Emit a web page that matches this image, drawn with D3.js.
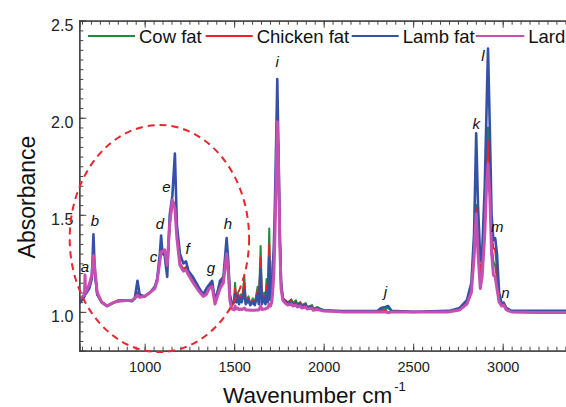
<!DOCTYPE html>
<html><head><meta charset="utf-8">
<script src="https://cdn.jsdelivr.net/npm/d3@7"></script>
<style>body{margin:0;background:#fff}svg{display:block}</style>
</head><body>
<script>
const seriesNames = ["Cow fat", "Chicken fat", "Lamb fat", "Lard"];
const seriesColors = ["#1f8b3d", "#ea2228", "#3551a5", "#c64fb2"];
const wavenumbers = [635,650,664,667,670,690,705,714,722,735,760,790,820,850,900,930,945,960,972,1000,1030,1057,1070,1085,1092,1100,1112,1126,1140,1155,1169,1180,1197,1216,1231,1245,1271,1300,1327,1345,1360,1377,1393,1410,1421,1440,1458,1468,1476,1486,1500,1505,1512,1520,1527,1535,1542,1550,1557,1565,1580,1590,1605,1615,1631,1638,1648,1655,1668,1675,1681,1688,1696,1703,1710,1715,1722,1728,1735,1741,1748,1755,1762,1772,1785,1800,1820,1827,1845,1852,1870,1877,1900,1907,1935,1942,1965,2000,2100,2300,2320,2345,2360,2380,2500,2700,2760,2800,2825,2840,2852,2862,2875,2885,2900,2910,2918,2928,2938,2948,2958,2968,2980,2995,3006,3020,3050,3200,3400];
const cowFat = [1.06,1.07,1.09,1.10,1.10,1.13,1.18,1.30,1.20,1.09,1.05,1.03,1.045,1.055,1.058,1.06,1.07,1.10,1.08,1.08,1.10,1.125,1.16,1.27,1.33,1.31,1.32,1.23,1.45,1.57,1.56,1.40,1.25,1.22,1.23,1.20,1.16,1.12,1.085,1.10,1.13,1.14,1.05,1.12,1.15,1.17,1.33,1.22,1.08,1.03,1.05,1.15,1.06,1.10,1.05,1.09,1.06,1.12,1.18,1.05,1.08,1.04,1.07,1.04,1.13,1.05,1.34,1.05,1.10,1.05,1.17,1.06,1.43,1.07,1.10,1.26,1.30,1.45,1.75,2.00,1.80,1.40,1.15,1.07,1.06,1.05,1.065,1.045,1.06,1.04,1.05,1.035,1.045,1.025,1.035,1.015,1.025,1.008,1.003,1.003,1.01,1.015,1.02,1.003,1.0,1.0,1.015,1.05,1.12,1.30,1.55,1.35,1.19,1.25,1.50,1.80,1.95,1.75,1.35,1.26,1.24,1.17,1.07,1.035,1.04,1.015,1.0,1.002,1.002];
const chickenFat = [1.06,1.07,1.09,1.10,1.10,1.13,1.18,1.30,1.20,1.09,1.05,1.03,1.045,1.055,1.058,1.06,1.07,1.10,1.08,1.08,1.10,1.125,1.16,1.27,1.33,1.31,1.32,1.23,1.45,1.57,1.55,1.40,1.25,1.22,1.23,1.20,1.16,1.12,1.085,1.10,1.13,1.14,1.05,1.11,1.15,1.16,1.32,1.22,1.08,1.03,1.05,1.12,1.05,1.09,1.045,1.08,1.05,1.10,1.15,1.045,1.07,1.04,1.06,1.04,1.11,1.045,1.28,1.045,1.08,1.045,1.14,1.055,1.35,1.065,1.09,1.22,1.28,1.45,1.75,2.01,1.80,1.40,1.15,1.07,1.06,1.045,1.058,1.04,1.052,1.035,1.045,1.03,1.04,1.022,1.03,1.012,1.02,1.006,1.002,1.0,1.005,1.01,0.996,1.0,1.0,1.0,1.012,1.05,1.12,1.30,1.53,1.35,1.21,1.25,1.45,1.75,1.884,1.70,1.40,1.33,1.32,1.22,1.08,1.04,1.05,1.02,1.0,0.997,0.995];
const lambFat = [1.045,1.06,1.08,1.09,1.09,1.12,1.17,1.40,1.20,1.09,1.05,1.03,1.045,1.058,1.06,1.055,1.07,1.16,1.09,1.08,1.10,1.13,1.17,1.30,1.393,1.30,1.29,1.18,1.50,1.60,1.815,1.45,1.30,1.25,1.26,1.21,1.178,1.13,1.09,1.12,1.14,1.16,1.06,1.11,1.16,1.18,1.38,1.25,1.09,1.05,1.05,1.09,1.05,1.08,1.04,1.07,1.05,1.08,1.11,1.04,1.06,1.035,1.05,1.035,1.09,1.04,1.22,1.04,1.07,1.04,1.10,1.05,1.28,1.06,1.08,1.20,1.35,1.57,1.90,2.20,1.80,1.40,1.15,1.07,1.055,1.04,1.05,1.035,1.045,1.03,1.04,1.025,1.035,1.02,1.025,1.012,1.018,1.008,1.004,1.005,1.02,1.025,1.03,1.005,1.0,1.005,1.02,1.06,1.15,1.40,1.92,1.55,1.264,1.30,1.65,2.05,2.357,1.95,1.50,1.37,1.38,1.30,1.10,1.04,1.045,1.02,1.005,1.005,1.005];
const lard = [1.065,1.075,1.09,1.19,1.10,1.14,1.19,1.29,1.22,1.10,1.05,1.03,1.045,1.055,1.058,1.06,1.07,1.085,1.075,1.08,1.10,1.12,1.16,1.26,1.31,1.31,1.32,1.24,1.45,1.577,1.53,1.38,1.24,1.21,1.215,1.19,1.15,1.11,1.08,1.09,1.12,1.13,1.04,1.09,1.12,1.15,1.30,1.20,1.06,1.015,1.01,1.03,1.015,1.02,1.012,1.015,1.012,1.015,1.02,1.01,1.01,1.008,1.008,1.008,1.01,1.01,1.03,1.012,1.015,1.015,1.02,1.02,1.04,1.03,1.05,1.10,1.20,1.40,1.70,1.98,1.75,1.35,1.12,1.06,1.045,1.035,1.04,1.03,1.035,1.025,1.03,1.02,1.025,1.015,1.018,1.008,1.012,1.004,1.0,1.0,1.0,1.0,0.995,1.0,1.0,1.0,1.01,1.04,1.10,1.28,1.505,1.30,1.12,1.18,1.40,1.65,1.76,1.60,1.30,1.19,1.18,1.12,1.05,1.03,1.035,1.01,1.0,0.997,0.997];
const seriesValues = [cowFat, chickenFat, lambFat, lard];
const seriesWidths = [2, 2, 2.6, 3];
const xMajorTicks = [1000, 1500, 2000, 2500, 3000];
const yMajorTicks = [1.0, 1.5, 2.0, 2.5];
const peakLabels = ["a","b","c","d","e","f","g","h","i","j","k","l","m","n"];
const peakLabelX = [667, 722, 1050, 1085, 1122, 1240, 1370, 1465, 1740, 2345, 2852, 2890, 2970, 3015];
const peakLabelY = [1.205, 1.44, 1.255, 1.425, 1.615, 1.30, 1.2, 1.425, 2.26, 1.075, 1.94, 2.29, 1.41, 1.07];

const W = 566, H = 407;
const L = 79.3, R = 574.3, T = 20.7, B = 350.7;
const FONT = "'Liberation Sans',Arial,'Noto Sans',sans-serif";
const svg = d3.select("body").append("svg").attr("width", W).attr("height", H)
  .attr("font-family", FONT);

const x = d3.scaleLinear().domain([635, 3400]).range([L, R]);
const y = d3.scaleLinear().domain([0.8, 2.5]).range([B, T]);

svg.append("clipPath").attr("id", "clip").append("rect")
  .attr("x", L).attr("y", T).attr("width", R - L).attr("height", B - T);

const plot = svg.append("g").attr("clip-path", "url(#clip)");
const line = d3.line().x(d => x(d[0])).y(d => y(d[1]));
seriesValues.forEach((vals, i) => {
  const pts = wavenumbers.map((w, k) => [w, vals[k]]);
  plot.append("path").datum(pts).attr("d", line)
    .attr("fill", "none").attr("stroke", seriesColors[i])
    .attr("stroke-width", seriesWidths[i]).attr("stroke-linejoin", "round");
});

// axes
const axisColor = "#444";
const xMinor = d3.range(650, 3401, 50);
const yMinor = d3.range(0.8, 2.5001, 0.05);
function styleAxis(g) {
  g.attr("font-family", FONT);
  g.select(".domain").attr("stroke", axisColor).attr("stroke-width", 1.3);
  g.selectAll(".tick line").attr("stroke", axisColor).attr("stroke-width", 1);
}
svg.append("g").attr("transform", `translate(0,${B})`)
  .call(d3.axisBottom(x).tickValues(xMinor).tickSize(-4).tickFormat(""))
  .call(styleAxis);
svg.append("g").attr("transform", `translate(0,${B})`)
  .call(d3.axisBottom(x).tickValues(xMajorTicks).tickSize(-7).tickPadding(11).tickFormat(d3.format("d")))
  .call(styleAxis)
  .call(g => g.selectAll("text").attr("font-size", 14.5).attr("fill", "#222"));
svg.append("g").attr("transform", `translate(0,${T})`)
  .call(d3.axisTop(x).tickValues(xMinor).tickSize(-4).tickFormat(""))
  .call(styleAxis);
svg.append("g").attr("transform", `translate(0,${T})`)
  .call(d3.axisTop(x).tickValues(xMajorTicks).tickSize(-7).tickFormat(""))
  .call(styleAxis);
svg.append("g").attr("transform", `translate(${L},0)`)
  .call(d3.axisLeft(y).tickValues(yMinor).tickSize(-4).tickFormat(""))
  .call(styleAxis);
svg.append("g").attr("transform", `translate(${L},0)`)
  .call(d3.axisLeft(y).tickValues(yMajorTicks).tickSize(-7).tickPadding(6).tickFormat(d3.format(".1f")))
  .call(styleAxis)
  .call(g => g.selectAll("text").attr("font-size", 16).attr("fill", "#222").attr("dy", "0.62em"));

// axis titles
svg.append("text").attr("transform", `translate(35,197) rotate(-90)`)
  .attr("text-anchor", "middle").attr("font-size", 23).attr("fill", "#111").text("Absorbance");
const xt = svg.append("text").attr("x", 223).attr("y", 403).attr("font-size", 22.5).attr("fill", "#111");
xt.append("tspan").text("Wavenumber cm");
xt.append("tspan").attr("font-size", 13).attr("dx", 2).attr("dy", -12).text("-1");

// dashed ellipse
svg.append("ellipse").attr("cx", 159.4).attr("cy", 238.5).attr("rx", 89.7).attr("ry", 113.5)
  .attr("fill", "none").attr("stroke", "#e8262e").attr("stroke-width", 2).attr("stroke-dasharray", "7,5");

// peak labels
peakLabels.forEach((t, i) => {
  svg.append("text").attr("x", x(peakLabelX[i])).attr("y", y(peakLabelY[i]))
    .attr("text-anchor", "middle").attr("font-style", "italic").attr("font-size", 15)
    .attr("fill", "#111").text(t);
});

// legend (layout positions)
const legendLineX = [88, 205.7, 351.7, 475.7];
const legendTextX = [139, 256.7, 402.7, 528.3];
const ly = 36;
seriesNames.forEach((n, i) => {
  svg.append("line").attr("x1", legendLineX[i]).attr("x2", legendTextX[i] - 4).attr("y1", ly).attr("y2", ly)
    .attr("stroke", seriesColors[i]).attr("stroke-width", 2);
  svg.append("text").attr("x", legendTextX[i]).attr("y", ly + 7).attr("font-size", 18.5).attr("fill", "#111").text(n);
});
</script>
</body></html>
